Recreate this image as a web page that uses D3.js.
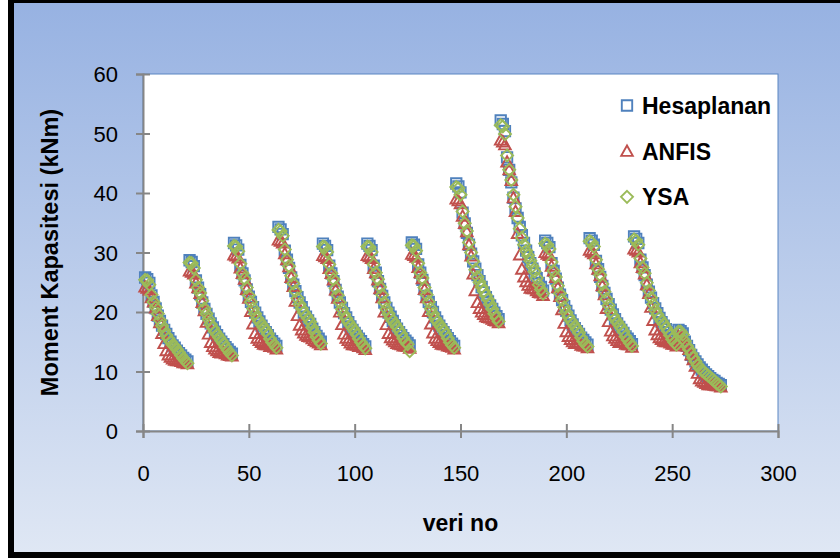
<!DOCTYPE html>
<html>
<head>
<meta charset="utf-8">
<script src="https://cdn.jsdelivr.net/npm/d3@7"></script>
<style>
  html, body { margin: 0; padding: 0; background: #ffffff; }
  svg { display: block; }
</style>
</head>
<body>
<svg id="chart" width="840" height="558"></svg>
<script>
// Series names, axis ticks and titles
const seriesNames = ["Hesaplanan", "ANFIS", "YSA"];
const xTicks = [0, 50, 100, 150, 200, 250, 300];
const yTicks = [0, 10, 20, 30, 40, 50, 60];
const xTitle = "veri no";
const yTitle = "Moment Kapasitesi (kNm)";

// Moment capacity (kNm), 13 blocks of 21 records each
const hesaplanan = [
  25.8,25.5,24.9,22.8,21.7,20.6,19.4,18.5,17.7,17.0,16.3,15.6,15.0,14.4,14.0,13.5,13.1,12.7,12.3,12.0,11.7,
  28.7,28.4,27.7,25.3,24.1,23.0,21.6,20.5,19.7,18.9,18.1,17.4,16.7,16.1,15.5,15.0,14.6,14.1,13.7,13.3,13.0,
  31.6,31.2,30.5,27.9,26.5,25.3,23.8,22.6,21.7,20.8,19.9,19.1,18.4,17.7,17.1,16.6,16.1,15.5,15.1,14.7,14.3,
  34.3,33.9,33.1,30.3,28.8,27.4,25.8,24.6,23.5,22.5,21.6,20.8,19.9,19.2,18.6,18.0,17.2,16.6,16.0,15.5,15.0,
  31.5,31.1,30.4,27.8,26.5,25.2,23.7,22.6,21.6,20.7,19.8,19.1,18.3,17.6,17.0,16.5,16.0,15.5,15.1,14.6,14.2,
  31.5,31.1,30.4,27.8,26.6,25.2,23.9,22.7,21.6,20.7,19.9,19.2,18.5,17.8,17.2,16.6,16.1,15.6,15.2,14.8,14.4,
  31.7,31.3,30.6,28.0,26.6,25.4,23.8,22.7,21.7,20.8,20.0,19.1,18.4,17.7,17.1,16.6,16.1,15.6,15.1,14.7,14.3,
  41.6,41.1,40.1,36.7,34.9,33.3,31.3,29.8,28.5,27.3,26.2,25.2,24.2,23.3,22.5,21.8,21.1,20.5,19.9,19.3,18.8,
  52.2,51.6,50.4,46.0,43.9,41.8,39.2,37.4,35.8,34.3,32.9,31.6,30.3,29.2,28.2,27.3,26.5,25.7,24.9,24.2,23.6,
  32.0,31.6,30.9,28.2,26.9,25.6,24.1,22.9,22.0,21.0,20.2,19.4,18.6,17.9,17.3,16.8,16.3,15.7,15.3,14.9,14.5,
  32.4,32.0,31.3,28.6,27.2,25.9,24.4,23.2,22.2,21.3,20.4,19.6,18.8,18.1,17.5,17.0,16.5,15.9,15.5,15.1,14.6,
  32.7,32.3,31.6,28.8,27.5,26.2,24.6,23.4,22.4,21.5,20.6,19.8,19.0,18.3,17.7,17.1,16.6,16.1,15.6,15.2,14.8,
  17.0,16.8,16.4,15.0,14.3,13.6,12.8,12.2,11.7,11.2,10.7,10.3,9.9,9.5,9.2,8.9,8.6,8.4,8.1,7.9,7.7
];

const anfis = [
  24.2,24.0,23.7,22.4,21.7,20.7,19.4,18.2,16.4,14.7,13.5,12.8,12.4,12.1,11.9,11.8,11.8,11.7,11.5,11.5,11.3,
  26.9,26.7,26.4,24.9,24.1,23.1,21.6,20.2,18.3,16.3,14.9,14.2,13.8,13.5,13.2,13.1,13.2,13.0,12.8,12.7,12.6,
  29.6,29.4,29.1,27.4,26.5,25.5,23.8,22.3,20.1,18.0,16.4,15.6,15.2,14.9,14.6,14.5,14.5,14.2,14.2,14.1,13.8,
  32.1,31.9,31.6,29.8,28.8,27.6,25.8,24.3,21.8,19.4,17.8,17.0,16.5,16.1,15.9,15.8,15.5,15.2,15.0,14.8,14.5,
  29.5,29.3,29.0,27.3,26.5,25.4,23.7,22.3,20.0,17.9,16.3,15.6,15.2,14.8,14.5,14.5,14.4,14.2,14.2,14.0,13.7,
  29.5,29.3,29.0,27.3,26.6,25.4,23.9,22.4,20.0,17.9,16.4,15.7,15.3,15.0,14.7,14.6,14.5,14.3,14.3,14.2,13.9,
  29.7,29.5,29.2,27.5,26.6,25.6,23.8,22.4,20.1,18.0,16.5,15.6,15.2,14.9,14.6,14.5,14.5,14.3,14.2,14.1,13.8,
  39.0,38.7,38.2,36.1,34.9,33.5,31.3,29.4,26.4,23.6,21.6,20.6,20.0,19.6,19.2,19.1,19.0,18.8,18.6,18.5,18.2,
  48.9,48.6,48.1,45.2,43.9,42.1,39.2,36.9,33.2,29.6,27.2,25.9,25.1,24.5,24.0,23.9,23.9,23.6,23.3,23.2,22.8,
  30.0,29.7,29.5,27.7,26.9,25.8,24.1,22.6,20.4,18.1,16.7,15.9,15.4,15.0,14.7,14.7,14.7,14.4,14.3,14.3,14.0,
  30.4,30.1,29.8,28.1,27.2,26.1,24.4,22.9,20.6,18.4,16.8,16.0,15.6,15.2,14.9,14.9,14.9,14.6,14.5,14.5,14.1,
  30.6,30.4,30.1,28.3,27.5,26.4,24.6,23.1,20.8,18.6,17.0,16.2,15.7,15.4,15.1,15.0,15.0,14.8,14.6,14.6,14.3,
  15.9,15.8,15.6,14.7,14.3,13.7,12.8,12.0,10.9,9.7,8.8,8.4,8.2,8.0,7.8,7.8,7.8,7.7,7.6,7.6,7.4
];

const ysa = [
  25.4,25.3,24.6,22.9,21.7,20.8,19.7,18.6,17.7,16.9,16.1,15.5,15.0,14.5,14.2,13.7,13.2,12.7,12.2,11.8,11.4,
  28.3,28.2,27.4,25.4,24.1,23.2,21.9,20.6,19.7,18.8,17.9,17.3,16.7,16.2,15.7,15.2,14.7,14.1,13.6,13.1,12.7,
  31.1,31.0,30.2,28.1,26.5,25.6,24.1,22.8,21.7,20.6,19.7,18.9,18.4,17.9,17.4,16.9,16.3,15.5,14.9,14.5,14.0,
  33.8,33.6,32.8,30.5,28.8,27.7,26.1,24.8,23.5,22.3,21.3,20.6,19.9,19.4,18.9,18.3,17.4,16.6,15.8,15.2,14.7,
  31.0,30.9,30.1,28.0,26.5,25.5,24.0,22.8,21.6,20.5,19.6,18.9,18.3,17.8,17.3,16.8,16.2,15.5,14.9,14.4,13.9,
  31.0,30.9,30.1,28.0,26.6,25.5,24.2,22.9,21.6,20.5,19.7,19.0,18.5,18.0,17.5,16.9,16.3,15.6,15.0,14.6,13.4,
  31.2,31.1,30.3,28.2,26.6,25.7,24.1,22.9,21.7,20.6,19.7,18.9,18.4,17.9,17.4,16.9,16.3,15.6,14.9,14.4,14.0,
  41.0,40.8,39.7,36.9,34.9,33.6,31.7,30.0,28.5,27.1,25.9,25.0,24.2,23.5,22.8,22.1,21.3,20.5,19.7,19.0,18.4,
  51.4,51.2,49.9,46.3,43.9,42.2,39.7,37.7,35.8,34.0,32.5,31.3,30.3,29.5,28.6,27.7,26.8,25.7,24.6,23.8,23.1,
  31.5,31.3,30.6,28.4,26.9,25.9,24.4,23.1,22.0,20.8,19.9,19.2,18.6,18.1,17.6,17.1,16.5,15.7,15.1,14.6,14.2,
  31.9,31.7,31.0,28.8,27.2,26.2,24.7,23.4,22.2,21.1,20.1,19.4,18.8,18.3,17.8,17.3,16.7,15.9,15.3,14.8,14.3,
  32.2,32.0,31.3,29.0,27.5,26.5,24.9,23.6,22.4,21.3,20.3,19.6,19.0,18.5,18.0,17.4,16.8,16.1,15.4,14.9,14.5,
  16.7,16.7,16.2,15.1,14.3,13.7,13.0,12.3,11.7,11.1,10.6,10.2,9.9,9.6,9.3,9.0,8.7,8.4,8.0,7.8,7.5
];

// Record numbers 1..273
const veriNo = hesaplanan.map((_, i) => i + 1);

const colors = ["#4F81BD", "#C0504D", "#9BBB59"];
const markerKinds = ["square", "triangle", "diamond"];
const seriesValues = [hesaplanan, anfis, ysa];

const W = 840, H = 558;
const plotBox = { left: 143, right: 778, top: 74, bottom: 431 };
const FONT = "'Liberation Sans', Arial, sans-serif";

const svg = d3.select("#chart");

// Chart area: black frame with a vertical blue gradient
const defs = svg.append("defs");
const grad = defs.append("linearGradient")
  .attr("id", "bg").attr("x1", 0).attr("y1", 0).attr("x2", 0).attr("y2", 1);
grad.append("stop").attr("offset", "0%").attr("stop-color", "#97b2e2");
grad.append("stop").attr("offset", "100%").attr("stop-color", "#dfe7f4");

svg.append("rect").attr("x", 0).attr("y", 0).attr("width", W).attr("height", H).attr("fill", "#ffffff");
svg.append("rect").attr("x", 8).attr("y", 0).attr("width", W - 8).attr("height", H).attr("fill", "#000000");
svg.append("rect").attr("x", 14).attr("y", 3).attr("width", W - 14).attr("height", 549).attr("fill", "url(#bg)");

const x = d3.scaleLinear().domain([0, 300]).range([plotBox.left, plotBox.right]);
const y = d3.scaleLinear().domain([0, 60]).range([plotBox.bottom, plotBox.top]);

// Plot area
svg.append("rect")
  .attr("x", x(0)).attr("y", y(60))
  .attr("width", x(300) - x(0)).attr("height", y(0) - y(60))
  .attr("fill", "#ffffff")
  .attr("stroke", "#5a86c2").attr("stroke-width", 1);

// Axes with cross-style tick marks
const axisColor = "#868686";
const yAxis = svg.append("g")
  .attr("transform", `translate(${x(0)},0)`)
  .call(d3.axisLeft(y).tickValues(yTicks).tickSizeOuter(0).tickSize(7).tickPadding(0));
const xAxis = svg.append("g")
  .attr("transform", `translate(0,${y(0)})`)
  .call(d3.axisBottom(x).tickValues(xTicks).tickSizeOuter(0).tickSize(7).tickPadding(0));

[yAxis, xAxis].forEach(g => {
  g.select(".domain").attr("stroke", axisColor).attr("stroke-width", 2);
  g.selectAll(".tick line").attr("stroke", axisColor).attr("stroke-width", 2);
  g.selectAll(".tick text")
    .attr("font-family", FONT).attr("font-size", 22).attr("fill", "#000000");
});
yAxis.selectAll(".tick line").attr("x1", -7).attr("x2", 7);
yAxis.selectAll(".tick text").attr("x", -25).attr("dy", "0.36em").attr("text-anchor", "end");
xAxis.selectAll(".tick line").attr("y1", -7).attr("y2", 7);
xAxis.selectAll(".tick text").attr("y", 50).attr("dy", 0);

// Marker shapes
function markerPath(kind) {
  if (kind === "square") return "M-5.2,-5.2H5.2V5.2H-5.2Z";
  if (kind === "triangle") return "M0,-5.8L5.8,4.6L-5.8,4.6Z";
  return "M0,-6L6,0L0,6L-6,0Z";
}

// Series markers (no fill, drawn in series order)
seriesValues.forEach((vals, s) => {
  svg.append("g")
    .attr("class", "series-" + s)
    .selectAll("path")
    .data(vals.map((v, i) => ({ no: veriNo[i], v })))
    .join("path")
    .attr("d", markerPath(markerKinds[s]))
    .attr("transform", d => `translate(${x(d.no)},${y(d.v)})`)
    .attr("fill", "none")
    .attr("stroke", colors[s])
    .attr("stroke-width", 1.9);
});

// Legend
const legendRows = [105.5, 151.3, 196.8];
const legend = svg.append("g");
seriesNames.forEach((name, s) => {
  legend.append("path")
    .attr("d", markerPath(markerKinds[s]))
    .attr("transform", `translate(627,${legendRows[s]})`)
    .attr("fill", "none").attr("stroke", colors[s]).attr("stroke-width", 1.9);
  legend.append("text")
    .attr("x", 642).attr("y", legendRows[s]).attr("dy", "0.36em")
    .attr("font-family", FONT).attr("font-size", 23).attr("font-weight", "bold")
    .attr("fill", "#000000")
    .text(name);
});

// Axis titles
svg.append("text")
  .attr("x", (x(0) + x(300)) / 2).attr("y", 531)
  .attr("text-anchor", "middle")
  .attr("font-family", FONT).attr("font-size", 23).attr("font-weight", "bold")
  .text(xTitle);

svg.append("text")
  .attr("transform", `translate(58,${(y(0) + y(60)) / 2}) rotate(-90)`)
  .attr("text-anchor", "middle")
  .attr("font-family", FONT).attr("font-size", 23.5).attr("font-weight", "bold")
  .text(yTitle);
</script>
</body>
</html>
